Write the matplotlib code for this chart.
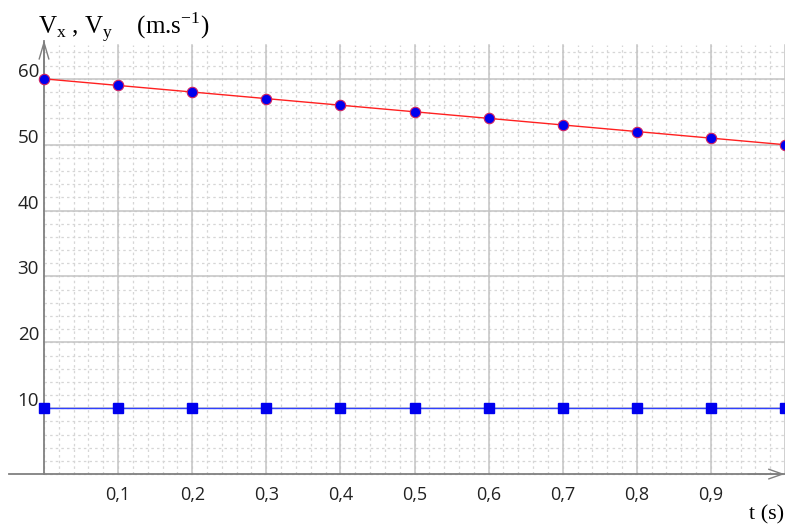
import numpy as np
import matplotlib
matplotlib.use("Agg")
import matplotlib.pyplot as plt

# Data
t = [0.0, 0.1, 0.2, 0.3, 0.4, 0.5, 0.6, 0.7, 0.8, 0.9, 1.0]
vy = [60, 59, 58, 57, 56, 55, 54, 53, 52, 51, 50]
vx = [10, 10, 10, 10, 10, 10, 10, 10, 10, 10, 10]
xtick_vals = [0.1, 0.2, 0.3, 0.4, 0.5, 0.6, 0.7, 0.8, 0.9]
xtick_labels = ["0,1", "0,2", "0,3", "0,4", "0,5", "0,6", "0,7", "0,8", "0,9"]
ytick_vals = [10, 20, 30, 40, 50, 60]
ytick_labels = ["10", "20", "30", "40", "50", "60"]

plt.rcParams['mathtext.fontset'] = 'custom'
plt.rcParams['mathtext.rm'] = 'Liberation Serif'

fig = plt.figure(figsize=(7.85, 5.24), dpi=100)
ax = fig.add_axes([0, 0, 1, 1])
ax.set_xlim(-0.0594, 1.0)
ax.set_ylim(-7.58, 71.97)
ax.axis('off')

gx_max, gy_max = 1.0, 65.2
# minor grid
for xv in np.arange(0, 1.0001, 0.02):
    ax.plot([xv, xv], [0, gy_max], color='#d6d6d6', lw=0.9, ls=(0, (2, 2.5)), zorder=1)
for yv in np.arange(0, 65.1, 2):
    ax.plot([0, gx_max], [yv, yv], color='#d6d6d6', lw=0.9, ls=(0, (2, 2.5)), zorder=1)
# major grid
for xv in np.arange(0.1, 1.0001, 0.1):
    ax.plot([xv, xv], [0, gy_max], color='#c4c4c4', lw=1.1, zorder=2)
for yv in np.arange(10, 61, 10):
    ax.plot([0, gx_max], [yv, yv], color='#c4c4c4', lw=1.1, zorder=2)

# axes with arrows
axis_col = '#808080'
ax.plot([-0.047, 1.0], [0, 0], color=axis_col, lw=1.3, zorder=3)
ax.plot([0, 0], [0, 65.8], color=axis_col, lw=1.3, zorder=3)
ax.annotate('', xy=(0, 65.9), xytext=(0, 60),
            arrowprops=dict(arrowstyle='->,head_length=1.2,head_width=0.35',
                            color=axis_col, lw=1.0, shrinkA=0, shrinkB=0), zorder=3)
ax.annotate('', xy=(0.9995, 0), xytext=(0.95, 0),
            arrowprops=dict(arrowstyle='->,head_length=1.0,head_width=0.35',
                            color=axis_col, lw=1.0, shrinkA=0, shrinkB=0), zorder=3)

# series
ax.plot(t, vy, color='#ff2020', lw=1.0, zorder=4)
ax.plot(t, vy, ls='none', marker='o', ms=7.5, mfc='#0000ee', mec='#d02060', mew=0.8,
        zorder=5, clip_on=False)
ax.plot(t, vx, color='#3040ff', lw=1.0, zorder=4)
ax.plot(t, vx, ls='none', marker='s', ms=7, mfc='#0000ee', mec='#0000ee',
        zorder=5, clip_on=False)

# tick labels
for xv, lab in zip(xtick_vals, xtick_labels):
    ax.annotate(lab, xy=(xv, 0), xytext=(0, -12), textcoords='offset pixels',
                ha='center', va='top', fontsize=13, family='Open Sans', color='#222222')
for yv, lab in zip(ytick_vals, ytick_labels):
    ax.annotate(lab, xy=(0, yv), xytext=(-5, -2), textcoords='offset pixels',
                ha='right', va='bottom', fontsize=13.5, family='Open Sans', color='#222222')

# titles
fig.text(38 / 785, 1 - 34 / 524,
         r"$\mathrm{V_x}$ , $\mathrm{V_y}$    (m.s$^{\mathrm{-1}}$)",
         family='Liberation Serif', ha='left', va='baseline', fontsize=18, color='black')
fig.text(785 / 785 - 0.001, 1 - 519 / 524, r"t (s)", family='Liberation Serif',
         ha='right', va='baseline', fontsize=16, color='black')

fig.savefig('out.png', dpi=100)
